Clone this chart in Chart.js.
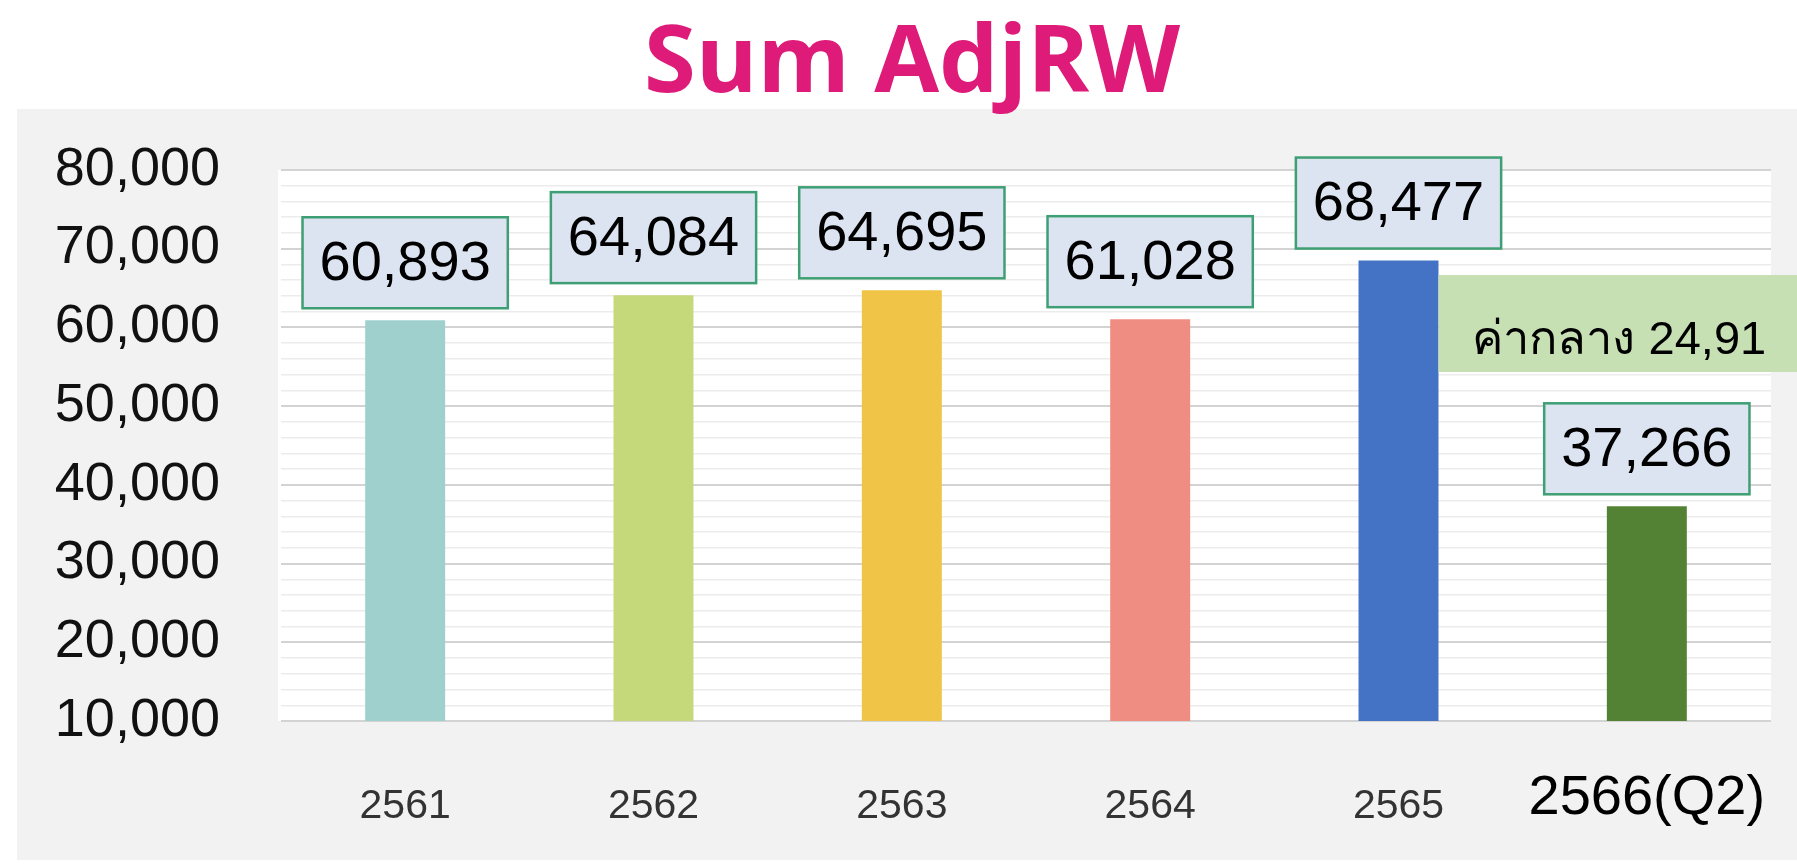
<!DOCTYPE html>
<html>
<head>
<meta charset="utf-8">
<title>Sum AdjRW</title>
<script src="https://cdn.jsdelivr.net/npm/chart.js@4.4.1/dist/chart.umd.min.js"></script>
<style>
    html, body { margin: 0; padding: 0; background: #fff; }
    canvas { display: block; }
</style>
</head>
<body>
<canvas id="adjrwChart" width="1797" height="865"></canvas>
<script>
// ==========================================
// DATA
// ==========================================
var years = ['2561', '2562', '2563', '2564', '2565', '2566(Q2)'];
var sumAdjRW = [60893, 64084, 64695, 61028, 68477, 37266];
var medianText = 'ค่ากลาง 24,91';

var yMin = 10000;
var yMax = 80000;
var yMajorStep = 10000;
var yMinorStep = 2000;

// ==========================================
// STYLE
// ==========================================
var barColors = ['#9fd0cd', '#c5d97b', '#f0c446', '#f08d82', '#4472c4', '#548235'];
var sansFont = '"Liberation Sans", Arial, sans-serif';
var narrowFont = '"Liberation Sans Narrow", "Liberation Sans", Arial, sans-serif';
var lastIdx = years.length - 1;

// gray panel + white plot area behind everything
var panelBackground = {
    id: 'panelBackground',
    beforeDraw: function(chart) {
        var ctx = chart.ctx;
        var a = chart.chartArea;
        ctx.save();
        ctx.fillStyle = '#ffffff';
        ctx.fillRect(0, 0, chart.width, chart.height);
        ctx.fillStyle = '#f2f2f2';
        ctx.fillRect(17, 109, chart.width - 17, 751);
        ctx.fillStyle = '#ffffff';
        ctx.fillRect(a.left - 3, a.top, a.right - a.left + 3, a.bottom - a.top);
        ctx.restore();
    }
};

// value boxes above bars + median callout
var valueBoxes = {
    id: 'valueBoxes',
    afterDatasetsDraw: function(chart) {
        var ctx = chart.ctx;
        var meta = chart.getDatasetMeta(0);
        ctx.save();
        ctx.font = '56px ' + sansFont;
        ctx.textAlign = 'center';
        ctx.textBaseline = 'middle';
        meta.data.forEach(function(bar, i) {
            var text = sumAdjRW[i].toLocaleString('en-US');
            var w = ctx.measureText(text).width + 34;
            var h = 91;
            var top = bar.y - 12 - h;
            ctx.fillStyle = '#dce3f1';
            ctx.fillRect(bar.x - w / 2, top, w, h);
            ctx.lineWidth = 2.5;
            ctx.strokeStyle = '#3f9f74';
            ctx.strokeRect(bar.x - w / 2, top, w, h);
            ctx.fillStyle = '#000000';
            ctx.fillText(text, bar.x, top + h / 2 + 2);
        });

        // median callout to the right of the 2565 bar
        var b5 = meta.data[4];
        var left = b5.x + b5.width / 2;
        ctx.fillStyle = '#c6e0b4';
        ctx.fillRect(left, 275, chart.width - left, 97);
        ctx.fillStyle = '#000000';
        ctx.font = '47px ' + sansFont;
        ctx.textAlign = 'left';
        ctx.textBaseline = 'alphabetic';
        ctx.fillText(medianText, left + 34, 354);
        ctx.restore();
    }
};

new Chart(document.getElementById('adjrwChart').getContext('2d'), {
    type: 'bar',
    data: {
        labels: years,
        datasets: [{
            label: 'Sum AdjRW',
            data: sumAdjRW,
            backgroundColor: barColors,
            borderWidth: 0,
            categoryPercentage: 1,
            barPercentage: 0.322
        }]
    },
    options: {
        responsive: false,
        animation: false,
        layout: { padding: { left: 53, right: 26, top: 0, bottom: 0 } },
        plugins: {
            legend: { display: false },
            tooltip: { enabled: false },
            title: {
                display: true,
                text: 'Sum AdjRW',
                color: '#de1b78',
                font: { family: '"Open Sans", sans-serif', weight: 'bold', size: 94, lineHeight: 1.2 },
                padding: { top: 9, bottom: 48 }
            }
        },
        scales: {
            x: {
                grid: { display: false, drawTicks: false },
                border: { display: false },
                ticks: {
                    padding: 20,
                    autoSkip: false,
                    maxRotation: 0,
                    color: function(c) { return c.index === lastIdx ? '#000000' : '#333333'; },
                    font: function(c) {
                        return c.index === lastIdx
                            ? { family: sansFont, size: 56, lineHeight: '116px' }
                            : { family: narrowFont, size: 41, lineHeight: '132px' };
                    }
                },
                afterFit: function(s) { s.height = 144; }
            },
            y: {
                min: yMin,
                max: yMax,
                border: { display: false },
                grid: {
                    drawTicks: false,
                    color: function(c) { return c.tick.value % yMajorStep === 0 ? '#d3d3d3' : '#ececec'; },
                    lineWidth: function(c) { return c.tick.value % yMajorStep === 0 ? 2 : 1.5; }
                },
                ticks: {
                    stepSize: yMinorStep,
                    autoSkip: false,
                    padding: 61,
                    color: '#111111',
                    font: { family: sansFont, size: 54 },
                    callback: function(v) { return v % yMajorStep === 0 ? v.toLocaleString('en-US') : ''; }
                },
                afterFit: function(s) { s.width = 228; }
            }
        }
    },
    plugins: [panelBackground, valueBoxes]
});
</script>
</body>
</html>
